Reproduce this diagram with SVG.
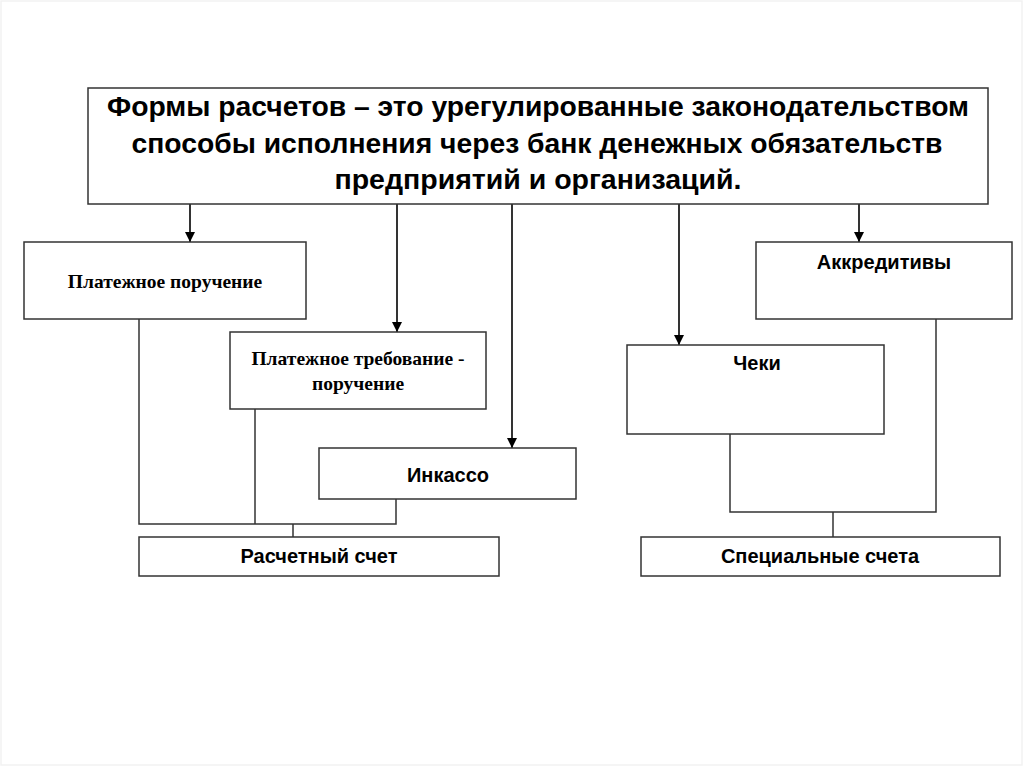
<svg xmlns="http://www.w3.org/2000/svg" width="1024" height="767" viewBox="0 0 1024 767">
<defs>
<marker id="arr" viewBox="0 0 10 10" refX="10" refY="5" markerWidth="10" markerHeight="10" markerUnits="userSpaceOnUse" orient="auto">
<path d="M0,0 L10,5 L0,10 z" fill="#000"/>
</marker>
<style>
.box{fill:#fff;stroke:#333;stroke-width:1.5}
.ln{fill:none;stroke:#333;stroke-width:1.5}
.ar{fill:none;stroke:#000;stroke-width:1.6;marker-end:url(#arr)}
.hd{font-family:"Liberation Sans Narrow","Liberation Sans",Arial,sans-serif;font-weight:bold;font-size:27px;fill:#000;text-anchor:middle}
.sn{font-family:"Liberation Sans",Arial,sans-serif;font-weight:bold;font-size:20px;fill:#000;text-anchor:middle}
.tm{font-family:"Liberation Serif","Times New Roman",serif;font-weight:bold;font-size:19.5px;fill:#000;text-anchor:middle}
</style>
</defs>
<rect x="1" y="1" width="1021" height="764" fill="#fff" stroke="#f2f2f2" stroke-width="1.5"/>
<g id="connectors">
<line class="ar" x1="190" y1="204" x2="190" y2="242"/>
<line class="ar" x1="397" y1="204" x2="397" y2="332"/>
<line class="ar" x1="512" y1="204" x2="512" y2="448"/>
<line class="ar" x1="679" y1="204" x2="679" y2="345"/>
<line class="ar" x1="859" y1="204" x2="859" y2="242"/>
<polyline class="ln" points="139,319 139,524 396,524 396,499"/>
<line class="ln" x1="255" y1="409" x2="255" y2="524"/>
<line class="ln" x1="293" y1="524" x2="293" y2="537"/>
<polyline class="ln" points="730,434 730,512 936,512 936,319"/>
<line class="ln" x1="833" y1="512" x2="833" y2="537"/>
</g>
<g id="n-main">
<rect class="box" x="88" y="88" width="900" height="116"/>
<text class="hd" x="538" y="116" textLength="862" lengthAdjust="spacingAndGlyphs">Формы расчетов – это урегулированные законодательством</text>
<text class="hd" x="537" y="153" textLength="811" lengthAdjust="spacingAndGlyphs">способы исполнения через банк денежных обязательств</text>
<text class="hd" x="538" y="189" textLength="407" lengthAdjust="spacingAndGlyphs">предприятий и организаций.</text>
</g>
<g id="n-platezh">
<rect class="box" x="24" y="242" width="282" height="77"/>
<text class="tm" x="165" y="288">Платежное поручение</text>
</g>
<g id="n-treb">
<rect class="box" x="230" y="332" width="256" height="77"/>
<text class="tm" x="358" y="365">Платежное требование -</text>
<text class="tm" x="358" y="390">поручение</text>
</g>
<g id="n-inkasso">
<rect class="box" x="319" y="448" width="257" height="51"/>
<text class="sn" x="448" y="482">Инкассо</text>
</g>
<g id="n-raschet">
<rect class="box" x="139" y="537" width="360" height="39"/>
<text class="sn" x="319" y="563">Расчетный счет</text>
</g>
<g id="n-akkred">
<rect class="box" x="756" y="242" width="256" height="77"/>
<text class="sn" x="884" y="269">Аккредитивы</text>
</g>
<g id="n-cheki">
<rect class="box" x="627" y="345" width="257" height="89"/>
<text class="sn" x="757" y="370">Чеки</text>
</g>
<g id="n-spec">
<rect class="box" x="641" y="537" width="359" height="39"/>
<text class="sn" x="820" y="563">Специальные счета</text>
</g>
</svg>
